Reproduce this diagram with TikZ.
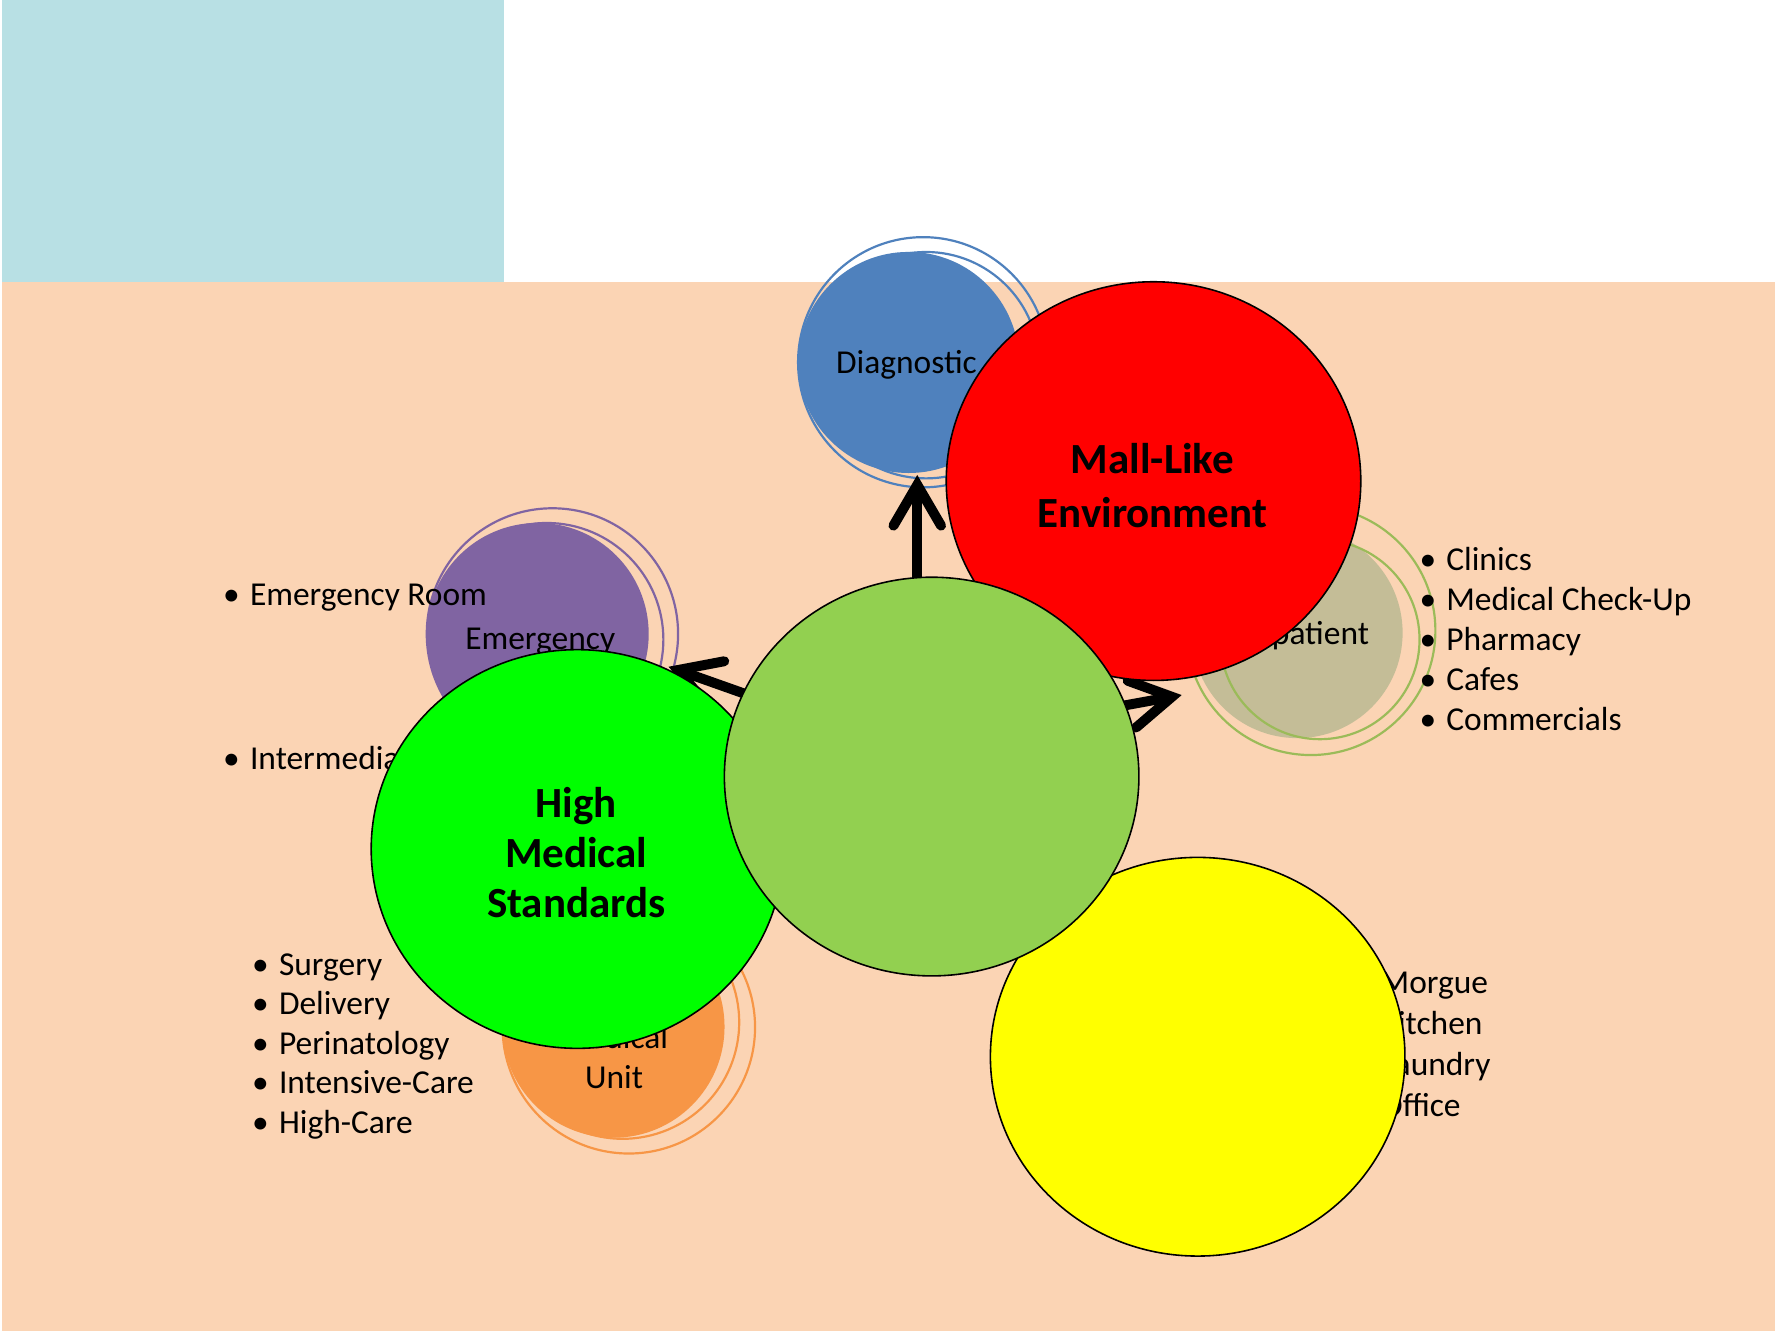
\documentclass[tikz,border=0pt]{standalone}
\usepackage{fontspec}
\setmainfont{Carlito}
\usetikzlibrary{arrows.meta,shapes.geometric}
\definecolor{peach}{HTML}{FBD4B4}
\definecolor{skyb}{RGB}{184,224,228}
\definecolor{diagblue}{HTML}{4F81BD}
\definecolor{emerpurple}{HTML}{8064A2}
\definecolor{outtan}{HTML}{C4BD97}
\definecolor{outring}{HTML}{9BBB59}
\definecolor{medorange}{HTML}{F79646}
\definecolor{hubgreen}{HTML}{92D050}
\definecolor{limeg}{RGB}{0,255,0}
\definecolor{pureyellow}{RGB}{255,255,0}
\definecolor{purered}{RGB}{255,0,0}
\newcommand{\mybullet}{\llap{•\hspace{0.09cm}}}
\begin{document}
\begin{tikzpicture}[x=0.01cm,y=-0.01cm,
  txt/.style={font=\fontsize{8.4}{10}\selectfont, inner sep=0pt, text=black},
  listitem/.style={txt, anchor=base west},
  boldtxt/.style={font=\fontsize{10.8}{13.4}\selectfont\bfseries, align=center, inner sep=0pt},
  bigball/.style={ellipse, draw=black, line width=0.4pt, minimum width=3.66cm, minimum height=3.52cm, inner sep=0pt},
  smallball/.style={circle, inner sep=0pt, minimum size=#1},
  ring/.style={line width=0.55pt},
  bigarrow/.style={line width=2.5pt, -{Straight Barb[length=0.36cm,width=0.42cm,line cap=round,line join=miter]}}
]
\useasboundingbox (0,0) rectangle (1568,1176);
\fill[white] (0,0) rectangle (1568,1176);
\fill[skyb] (1.5,0) rectangle (445.3,248.8);
\fill[peach] (1.5,248.8) rectangle (1568,1176);

% small circles
\node[smallball=1.952cm, fill=diagblue] (diag) at (802.6,320.2) {};
\draw[ring, diagblue] (815.5,320) circle[radius=110.5];
\draw[ring, diagblue] (818,322.6) circle[radius=100];

\node[smallball=1.96cm, fill=emerpurple] (emer) at (475,560) {};
\draw[ring, emerpurple] (488,560) circle[radius=111];
\draw[ring, emerpurple] (483,565) circle[radius=103];

\node[smallball=1.86cm, fill=outtan] (outp) at (1146,559) {};
\draw[ring, outring] (1158,557) circle[radius=110];
\draw[ring, outring] (1166,565) circle[radius=88];

\node[smallball=1.96cm, fill=medorange] (medu) at (542,907) {};
\draw[ring, medorange] (555.5,907.5) circle[radius=111.5];
\draw[ring, medorange] (550,903) circle[radius=103];

% small circle labels
\node[txt, anchor=base] (diagtxt) at (800.8,329.8) {Diagnostic};
\node[txt, anchor=base] (emertxt) at (477.2,574.2) {Emergency};
\node[txt, anchor=base] (outptxt) at (1144,569) {Outpatient};
\node[txt, align=center] (medutxt) at (542.5,933.5) {Medical\\Unit};

% lists
\node[listitem] (er1) at (220.2,534.5) {\mybullet Emergency Room};
\node[listitem] (er2) at (220.2,679.6) {\mybullet Intermediate};
\foreach \t [count=\i] in {Clinics,Medical Check-Up,Pharmacy,Cafes,Commercials}
  \node[listitem] (op\i) at (1277,{504.1+35.2*(\i-1)}) {\mybullet\t};
\foreach \t [count=\i] in {Surgery,Delivery,Perinatology,Intensive-Care,High-Care}
  \node[listitem] (mu\i) at (245.8,{861.3+35*(\i-1)}) {\mybullet\t};
\foreach \t [count=\i] in {Morgue,Kitchen,Laundry,Office}
  \node[listitem] (sv\i) at (1219,{878+36*(\i-1)}) {\mybullet\t};

% arrows
\coordinate (upS) at (810.3,530);
\coordinate (upT) at (810.3,419.6);
\coordinate (lfS) at (680.6,620.9);
\coordinate (lfT) at (590.6,589);
\coordinate (rtS) at (965.2,628.3);
\coordinate (rtT) at (1043.9,614);
\draw[bigarrow] (upS) -- (upT);
\draw[bigarrow] (lfS) -- (lfT);
\draw[bigarrow] (rtS) -- (rtT);

% main circles
\node[bigball, fill=purered] (mall) at (1019,425) {};
\node[boldtxt] (malltxt) at (1018,429) {Mall-Like\\Environment};
\node[bigball, fill=limeg, minimum width=3.64cm] (hms) at (510,750) {};
\node[boldtxt, font=\fontsize{10.8}{12.5}\selectfont\bfseries] (hmstxt) at (509,753) {High\\Medical\\Standards};
\node[bigball, fill=pureyellow] (yel) at (1058,933.5) {};
\node[bigball, fill=hubgreen] (hub) at (823,686) {};
\end{tikzpicture}
\end{document}
